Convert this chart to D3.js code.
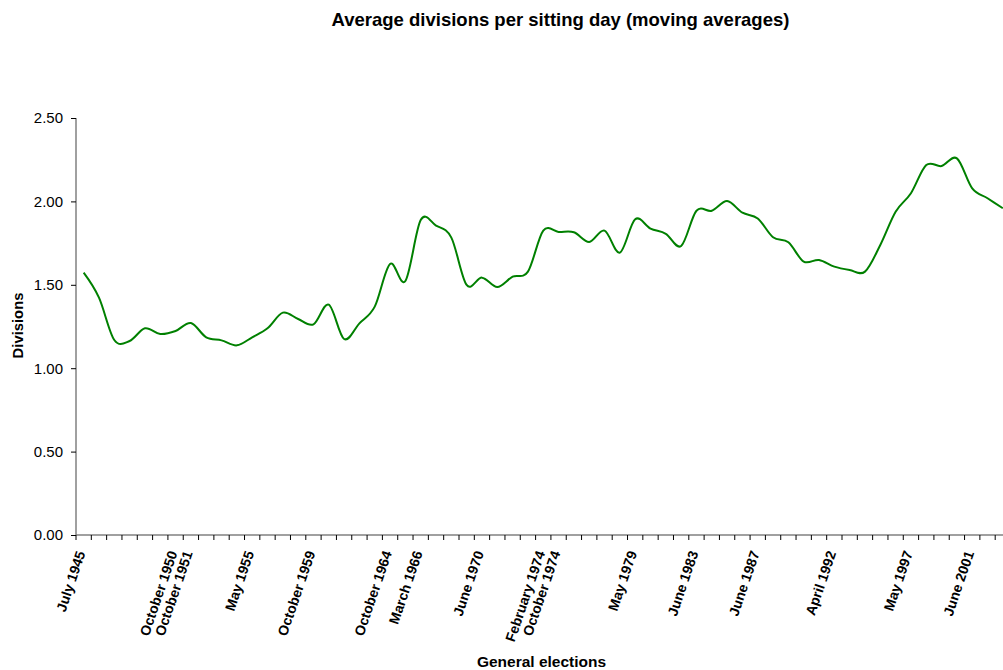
<!DOCTYPE html>
<html>
<head>
<meta charset="utf-8">
<script src="https://cdn.jsdelivr.net/npm/d3@7"></script>
<style>
body { margin: 0; background: #fff; }
svg { display: block; }
text { font-family: Arial, "Liberation Sans", sans-serif; }
</style>
</head>
<body>
<svg id="chart" width="1003" height="670"></svg>
<script>
// ---- data ----
const title = "Average divisions per sitting day (moving averages)";
const yTitle = "Divisions";
const xTitle = "General elections";
// one value per session (61 sessions)
const values = [
  1.573, 1.423, 1.169, 1.163, 1.239, 1.205, 1.223, 1.271, 1.185, 1.167,
  1.137, 1.185, 1.239, 1.333, 1.295, 1.263, 1.381, 1.175, 1.269, 1.369,
  1.625, 1.523, 1.888, 1.855, 1.783, 1.499, 1.543, 1.487, 1.549, 1.579,
  1.825, 1.817, 1.815, 1.757, 1.825, 1.693, 1.893, 1.837, 1.806, 1.733,
  1.944, 1.944, 2.002, 1.932, 1.898, 1.785, 1.755, 1.639, 1.649, 1.609,
  1.589, 1.579, 1.739, 1.938, 2.049, 2.218, 2.212, 2.258, 2.078, 2.019,
  1.959
];
// category labels (general elections), blank for other sessions
const categoryLabels = [
  "July 1945", "", "", "", "", "", "October 1950", "October 1951", "", "",
  "", "May 1955", "", "", "", "October 1959", "", "", "", "",
  "October 1964", "", "March 1966", "", "", "", "June 1970", "", "", "",
  "February 1974", "October 1974", "", "", "", "", "May 1979", "", "", "",
  "June 1983", "", "", "", "June 1987", "", "", "", "", "April 1992",
  "", "", "", "", "May 1997", "", "", "", "June 2001", "", ""
];
const yTicks = [0, 0.5, 1.0, 1.5, 2.0, 2.5];

(function () {
  const svg = d3.select("#chart");
  const mLeft = 76, mBottom = 535, mTop = 118;
  const step = 15.32;
  const idx = d3.range(values.length);

  const x = d3.scaleBand().domain(idx).range([mLeft, mLeft + step * values.length]).paddingInner(0).paddingOuter(0);
  const y = d3.scaleLinear().domain([0, 2.5]).range([mBottom, mTop]);
  const cx = i => x(i) + x.bandwidth() / 2;

  // title
  svg.append("text").attr("x", 560.5).attr("y", 25.5).attr("text-anchor", "middle")
    .attr("font-size", 18.5).attr("font-weight", "bold").text(title);

  // y axis
  const yAxis = d3.axisLeft(y).tickValues(yTicks).tickFormat(d3.format(".2f")).tickSize(5).tickPadding(8);
  const gy = svg.append("g").attr("transform", `translate(${mLeft},0)`).call(yAxis);
  gy.select(".domain").attr("stroke", "#808080").attr("stroke-width", 1.5).attr("d", `M0,${mTop}V${mBottom}`);
  gy.selectAll(".tick line").attr("stroke", "#000");
  gy.selectAll(".tick text").attr("font-size", 15).attr("font-family", "Arial, 'Liberation Sans', sans-serif").attr("fill", "#000");

  // x axis line
  const gx = svg.append("g");
  gx.append("line").attr("x1", mLeft).attr("x2", 1003).attr("y1", mBottom).attr("y2", mBottom)
    .attr("stroke", "#808080").attr("stroke-width", 1.5);
  // ticks at category boundaries
  const bounds = d3.range(values.length + 1).map(i => i < values.length ? x(i) : x(values.length - 1) + x.bandwidth());
  gx.selectAll("line.tk").data(bounds).join("line").attr("class", "tk")
    .attr("x1", d => d).attr("x2", d => d).attr("y1", mBottom).attr("y2", mBottom + 5)
    .attr("stroke", "#000").attr("stroke-width", 1);
  // category labels
  gx.selectAll("text.cl").data(idx.filter(i => categoryLabels[i])).join("text").attr("class", "cl")
    .attr("transform", i => `translate(${cx(i) + 2},${mBottom + 18}) rotate(-71)`)
    .attr("text-anchor", "end").attr("font-size", 14).attr("font-weight", "bold")
    .text(i => categoryLabels[i]);

  // axis titles
  svg.append("text").attr("x", 541.5).attr("y", 667).attr("text-anchor", "middle")
    .attr("font-size", 15.5).attr("font-weight", "bold").text(xTitle);
  svg.append("text").attr("transform", `translate(23,325.5) rotate(-90)`).attr("text-anchor", "middle")
    .attr("font-size", 14.8).attr("font-weight", "bold").text(yTitle);

  // line
  const line = d3.line().x((d, i) => cx(i)).y(d => y(d)).curve(d3.curveCardinal.tension(0));
  svg.append("path").datum(values).attr("d", line).attr("fill", "none")
    .attr("stroke", "#008000").attr("stroke-width", 2);
})();
</script>
</body>
</html>
